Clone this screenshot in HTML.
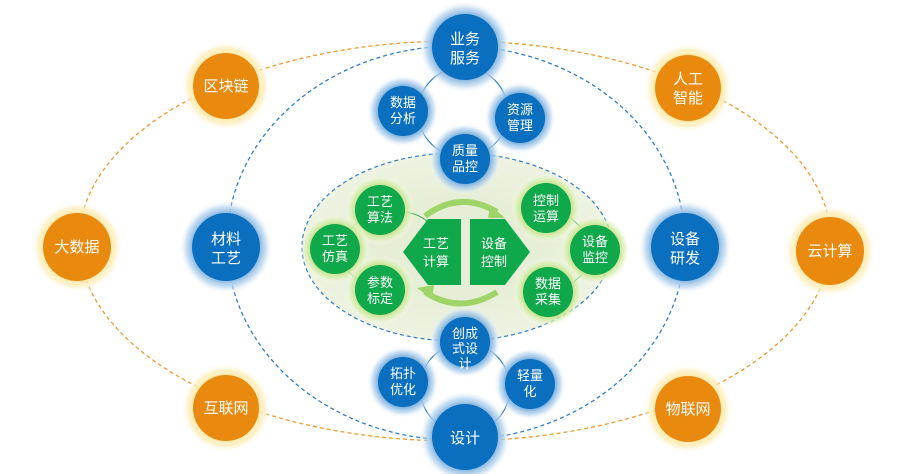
<!DOCTYPE html>
<html><head><meta charset="utf-8"><style>
html,body{margin:0;padding:0;background:#fff;width:909px;height:474px;overflow:hidden}
text{font-family:"Liberation Sans","Noto Sans CJK SC",sans-serif;fill:#fff;text-anchor:middle}
</style></head><body>
<svg width="909" height="474" viewBox="0 0 909 474" xmlns="http://www.w3.org/2000/svg">
<defs>
<radialGradient id="og"><stop offset="0.7" stop-color="#fde7a0"/><stop offset="0.85" stop-color="#feeebb" stop-opacity="0.7"/><stop offset="1" stop-color="#fff" stop-opacity="0"/></radialGradient>
<radialGradient id="bg"><stop offset="0.7" stop-color="#7fb3e0"/><stop offset="0.85" stop-color="#b5d3ee" stop-opacity="0.7"/><stop offset="1" stop-color="#fff" stop-opacity="0"/></radialGradient>
<radialGradient id="gg"><stop offset="0.7" stop-color="#c3e38a"/><stop offset="0.85" stop-color="#dcefb5" stop-opacity="0.7"/><stop offset="1" stop-color="#fff" stop-opacity="0"/></radialGradient>
<radialGradient id="ell" cx="0.5" cy="0.5" r="0.5"><stop offset="0.5" stop-color="#e6eed6"/><stop offset="1" stop-color="#eef3e2"/></radialGradient>
</defs>
<ellipse cx="455" cy="241" rx="376" ry="200" fill="none" stroke="#ef9a2e" stroke-width="1.3" stroke-dasharray="4 3"/>
<ellipse cx="456" cy="243" rx="229" ry="197" fill="none" stroke="#2f7fc8" stroke-width="1.3" stroke-dasharray="4 3"/>
<ellipse cx="457" cy="247" rx="155" ry="94" fill="url(#ell)" stroke="#2f7fc8" stroke-width="1.2" stroke-dasharray="4 3"/>
<circle cx="463" cy="112" r="45" fill="none" stroke="#2f7fc8" stroke-width="1.2"/>
<circle cx="465" cy="388" r="45" fill="none" stroke="#2f7fc8" stroke-width="1.2"/>
<path d="M358 222 Q340 240 335 247 M382 210 Q420 210 430 225 M405 290 Q395 290 380 290 M335 247 Q345 280 380 290" fill="none" stroke="#3aa84f" stroke-width="1"/>
<path d="M545 207 Q580 215 595 250 Q585 285 548 292" fill="none" stroke="#3aa84f" stroke-width="1"/>
<!-- arrows -->
<path d="M425 216 Q460 190 497 212" fill="none" stroke="#9fd468" stroke-width="6"/>
<polygon points="490,205 505,218 488,218" fill="#9fd468"/>
<path d="M497 292 Q460 315 425 292" fill="none" stroke="#9fd468" stroke-width="6"/>
<polygon points="432,299 417,288 434,285" fill="#9fd468"/>
<!-- hexagons -->
<polygon points="428,219 461,219 461,285 428,285 403,252" fill="#0fa84a"/>
<polygon points="470,219 505,219 530,252 505,285 470,285" fill="#0fa84a"/>
<text x="436" y="248" font-size="13">工艺</text><text x="436" y="266" font-size="13">计算</text>
<text x="494" y="248" font-size="13">设备</text><text x="494" y="266" font-size="13">控制</text>
<!-- green nodes -->
<g font-size="13">
<circle cx="380" cy="210" r="35" fill="url(#gg)"/><circle cx="380" cy="210" r="25" fill="#0fa84a"/><text x="380" y="206">工艺</text><text x="380" y="222">算法</text>
<circle cx="335" cy="249" r="35" fill="url(#gg)"/><circle cx="335" cy="249" r="25" fill="#0fa84a"/><text x="335" y="245">工艺</text><text x="335" y="261">仿真</text>
<circle cx="380" cy="290" r="35" fill="url(#gg)"/><circle cx="380" cy="290" r="25" fill="#0fa84a"/><text x="380" y="287">参数</text><text x="380" y="303">标定</text>
<circle cx="546" cy="208" r="35" fill="url(#gg)"/><circle cx="546" cy="208" r="25" fill="#0fa84a"/><text x="546" y="205">控制</text><text x="546" y="221">运算</text>
<circle cx="595" cy="250" r="35" fill="url(#gg)"/><circle cx="595" cy="250" r="25" fill="#0fa84a"/><text x="595" y="246">设备</text><text x="595" y="262">监控</text>
<circle cx="548" cy="292" r="35" fill="url(#gg)"/><circle cx="548" cy="292" r="25" fill="#0fa84a"/><text x="548" y="288">数据</text><text x="548" y="304">采集</text>
</g>
<!-- blue small -->
<g font-size="13">
<circle cx="403" cy="111" r="36" fill="url(#bg)"/><circle cx="403" cy="111" r="25" fill="#0a6fbe"/><text x="403" y="107">数据</text><text x="403" y="123">分析</text>
<circle cx="520" cy="118" r="36" fill="url(#bg)"/><circle cx="520" cy="118" r="25" fill="#0a6fbe"/><text x="520" y="114">资源</text><text x="520" y="130">管理</text>
<circle cx="465" cy="159" r="36" fill="url(#bg)"/><circle cx="465" cy="159" r="25" fill="#0a6fbe"/><text x="465" y="155">质量</text><text x="465" y="171">品控</text>
<circle cx="465" cy="342" r="36" fill="url(#bg)"/><circle cx="465" cy="342" r="25" fill="#0a6fbe"/><text x="465" y="338">创成</text><text x="465" y="353">式设</text><text x="465" y="368">计</text>
<circle cx="403" cy="382" r="36" fill="url(#bg)"/><circle cx="403" cy="382" r="25" fill="#0a6fbe"/><text x="403" y="378">拓扑</text><text x="403" y="394">优化</text>
<circle cx="530" cy="384" r="36" fill="url(#bg)"/><circle cx="530" cy="384" r="25" fill="#0a6fbe"/><text x="530" y="380">轻量</text><text x="530" y="396">化</text>
</g>
<!-- blue large -->
<g font-size="15">
<circle cx="465" cy="47" r="46" fill="url(#bg)"/><circle cx="465" cy="47" r="33" fill="#0a6fbe"/><text x="465" y="44">业务</text><text x="465" y="63">服务</text>
<circle cx="226" cy="247" r="47" fill="url(#bg)"/><circle cx="226" cy="247" r="34" fill="#0a6fbe"/><text x="226" y="244">材料</text><text x="226" y="263">工艺</text>
<circle cx="685" cy="247" r="47" fill="url(#bg)"/><circle cx="685" cy="247" r="34" fill="#0a6fbe"/><text x="685" y="244">设备</text><text x="685" y="263">研发</text>
<circle cx="465" cy="437" r="46" fill="url(#bg)"/><circle cx="465" cy="437" r="33" fill="#0a6fbe"/><text x="465" y="443">设计</text>
</g>
<!-- orange -->
<g font-size="15">
<circle cx="226" cy="86" r="45" fill="url(#og)"/><circle cx="226" cy="86" r="33" fill="#e98a0f"/><text x="226" y="91">区块链</text>
<circle cx="688" cy="88" r="45" fill="url(#og)"/><circle cx="688" cy="88" r="33" fill="#e98a0f"/><text x="688" y="84">人工</text><text x="688" y="103">智能</text>
<circle cx="77" cy="247" r="46" fill="url(#og)"/><circle cx="77" cy="247" r="34" fill="#e98a0f"/><text x="77" y="252">大数据</text>
<circle cx="830" cy="251" r="46" fill="url(#og)"/><circle cx="830" cy="251" r="34" fill="#e98a0f"/><text x="830" y="256">云计算</text>
<circle cx="226" cy="408" r="45" fill="url(#og)"/><circle cx="226" cy="408" r="33" fill="#e98a0f"/><text x="226" y="413">互联网</text>
<circle cx="688" cy="409" r="45" fill="url(#og)"/><circle cx="688" cy="409" r="33" fill="#e98a0f"/><text x="688" y="414">物联网</text>
</g>
</svg>
</body></html>
